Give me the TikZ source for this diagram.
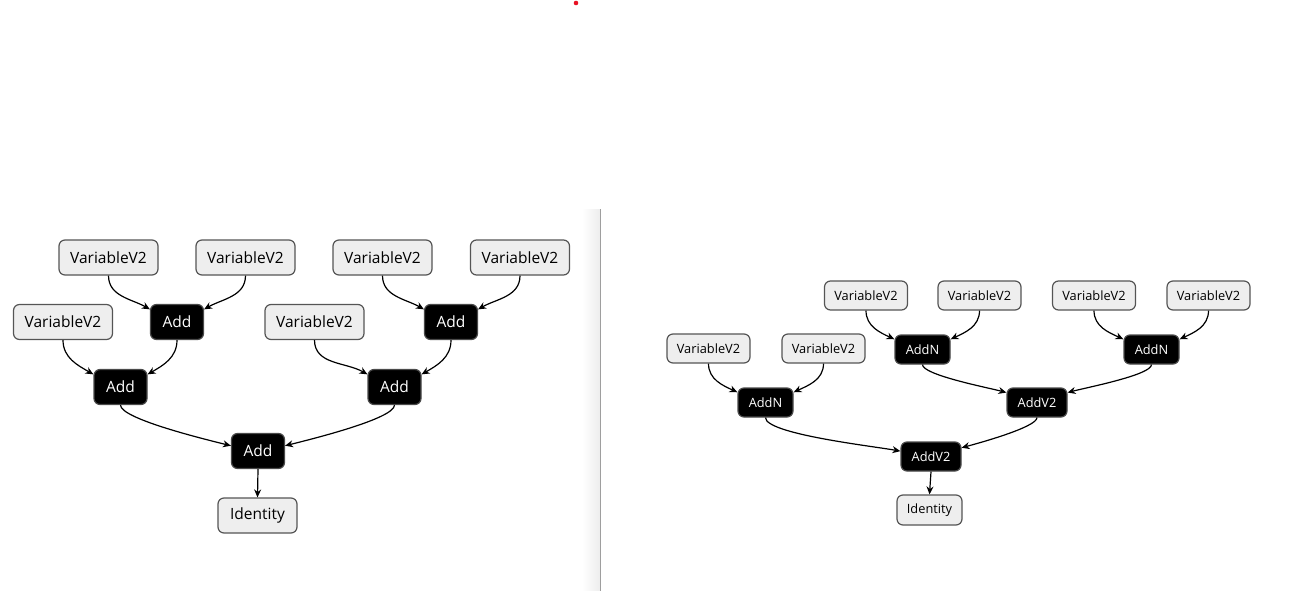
\documentclass[tikz,border=0pt]{standalone}
\usepackage{fontspec}
\setmainfont{Open Sans}
\usetikzlibrary{arrows.meta,shadings}
\definecolor{nodefill}{HTML}{EEEEEE}
\definecolor{nodeline}{HTML}{555555}
\definecolor{opline}{HTML}{4A4A4A}
\definecolor{dotred}{HTML}{E81123}
\begin{document}
\begin{tikzpicture}[x=1pt,y=1pt,
  base/.style={draw, rounded corners=6pt, line width=1.2pt, inner sep=0pt, anchor=center},
  var/.style={base, draw=nodeline, fill=nodefill, text=black},
  op/.style={base, draw=opline, fill=black, text=white},
  bigtxt/.style={font=\fontsize{15.5}{18}\selectfont, minimum height=35pt},
  smalltxt/.style={font=\fontsize{12.8}{15}\selectfont, minimum height=29pt},
  vbig/.style={var, bigtxt, minimum width=99pt},
  addbig/.style={op, bigtxt, minimum width=53pt},
  idbig/.style={var, bigtxt, minimum width=79pt},
  vsmall/.style={var, smalltxt, minimum width=83pt},
  addnsmall/.style={op, smalltxt, minimum width=55pt},
  addvsmall/.style={op, smalltxt, minimum width=60pt},
  idsmall/.style={var, smalltxt, minimum width=65pt, minimum height=30pt},
  edge/.style={line width=1.2pt, -{Stealth[length=8pt,width=7pt]}},
  longedge/.style={edge, out looseness=0.3, in looseness=0.55}
]
\useasboundingbox (0,0) rectangle (1301,-591);

% red marker at the top
\fill[dotred] (576,-3) circle (2.3pt);

% splitter between the two panes
\shade[left color=white, right color=black!7] (582,-209) rectangle (600,-591);
\draw[black!38, line width=1.2pt] (600.5,-209) -- (600.5,-591);

% ---------- left graph ----------
\node[vbig] (va) at (108.5,-257.5) {VariableV2};
\node[vbig] (vb) at (245.5,-257.5) {VariableV2};
\node[vbig] (vc) at (382.5,-257.5) {VariableV2};
\node[vbig] (vd) at (520,-257.5) {VariableV2};
\node[vbig] (ve) at (63,-322) {VariableV2};
\node[addbig] (add1) at (177,-322) {Add};
\node[vbig] (vf) at (314.5,-322) {VariableV2};
\node[addbig] (add2) at (451,-322) {Add};
\node[addbig] (add3) at (120.5,-387) {Add};
\node[addbig] (add4) at (394.5,-387) {Add};
\node[addbig] (add5) at (258,-451) {Add};
\node[idbig] (id1) at (257.5,-515.5) {Identity};

\draw[edge] (va.south) to[out=-90,in=150] (add1.155);
\draw[edge] (vb.south) to[out=-90,in=30] (add1.25);
\draw[edge] (vc.south) to[out=-90,in=150] (add2.155);
\draw[edge] (vd.south) to[out=-90,in=30] (add2.25);
\draw[edge] (ve.south) to[out=-90,in=150] (add3.155);
\draw[edge] (add1.south) to[out=-90,in=30] (add3.25);
\draw[edge] (vf.south) to[out=-90,in=150] (add4.155);
\draw[edge] (add2.south) to[out=-90,in=30] (add4.25);
\draw[longedge] (add3.south) to[out=-90,in=166] (add5.169);
\draw[longedge] (add4.south) to[out=-90,in=14] (add5.11);
\draw[edge] (add5.south) -- (id1.north);

% ---------- right graph ----------
\node[vsmall] (vi) at (866,-295.5) {VariableV2};
\node[vsmall] (vj) at (979.5,-295.5) {VariableV2};
\node[vsmall] (vk) at (1094,-295.5) {VariableV2};
\node[vsmall] (vl) at (1208.5,-295.5) {VariableV2};
\node[vsmall] (vg) at (708.5,-348.5) {VariableV2};
\node[vsmall] (vh) at (823.5,-348.5) {VariableV2};
\node[addnsmall] (addn2) at (922.5,-349.5) {AddN};
\node[addnsmall] (addn3) at (1151.5,-349.5) {AddN};
\node[addnsmall] (addn1) at (765.5,-402.5) {AddN};
\node[addvsmall] (addv2a) at (1037,-402.5) {AddV2};
\node[addvsmall] (addv2b) at (931,-456.5) {AddV2};
\node[idsmall] (id2) at (929.5,-510) {Identity};

\draw[edge] (vg.south) to[out=-90,in=155] (addn1.160);
\draw[edge] (vh.south) to[out=-90,in=25] (addn1.20);
\draw[edge] (vi.south) to[out=-90,in=155] (addn2.160);
\draw[edge] (vj.south) to[out=-90,in=25] (addn2.20);
\draw[edge] (vk.south) to[out=-90,in=155] (addn3.160);
\draw[edge] (vl.south) to[out=-90,in=25] (addn3.20);
\draw[longedge] (addn2.south) to[out=-90,in=165] (addv2a.162);
\draw[longedge] (addn3.south) to[out=-90,in=15] (addv2a.18);
\draw[longedge] (addn1.south) to[out=-90,in=170] (addv2b.170);
\draw[longedge] (addv2a.south) to[out=-90,in=15] (addv2b.16);
\draw[edge] (addv2b.south) -- (id2.north);
\end{tikzpicture}
\end{document}
